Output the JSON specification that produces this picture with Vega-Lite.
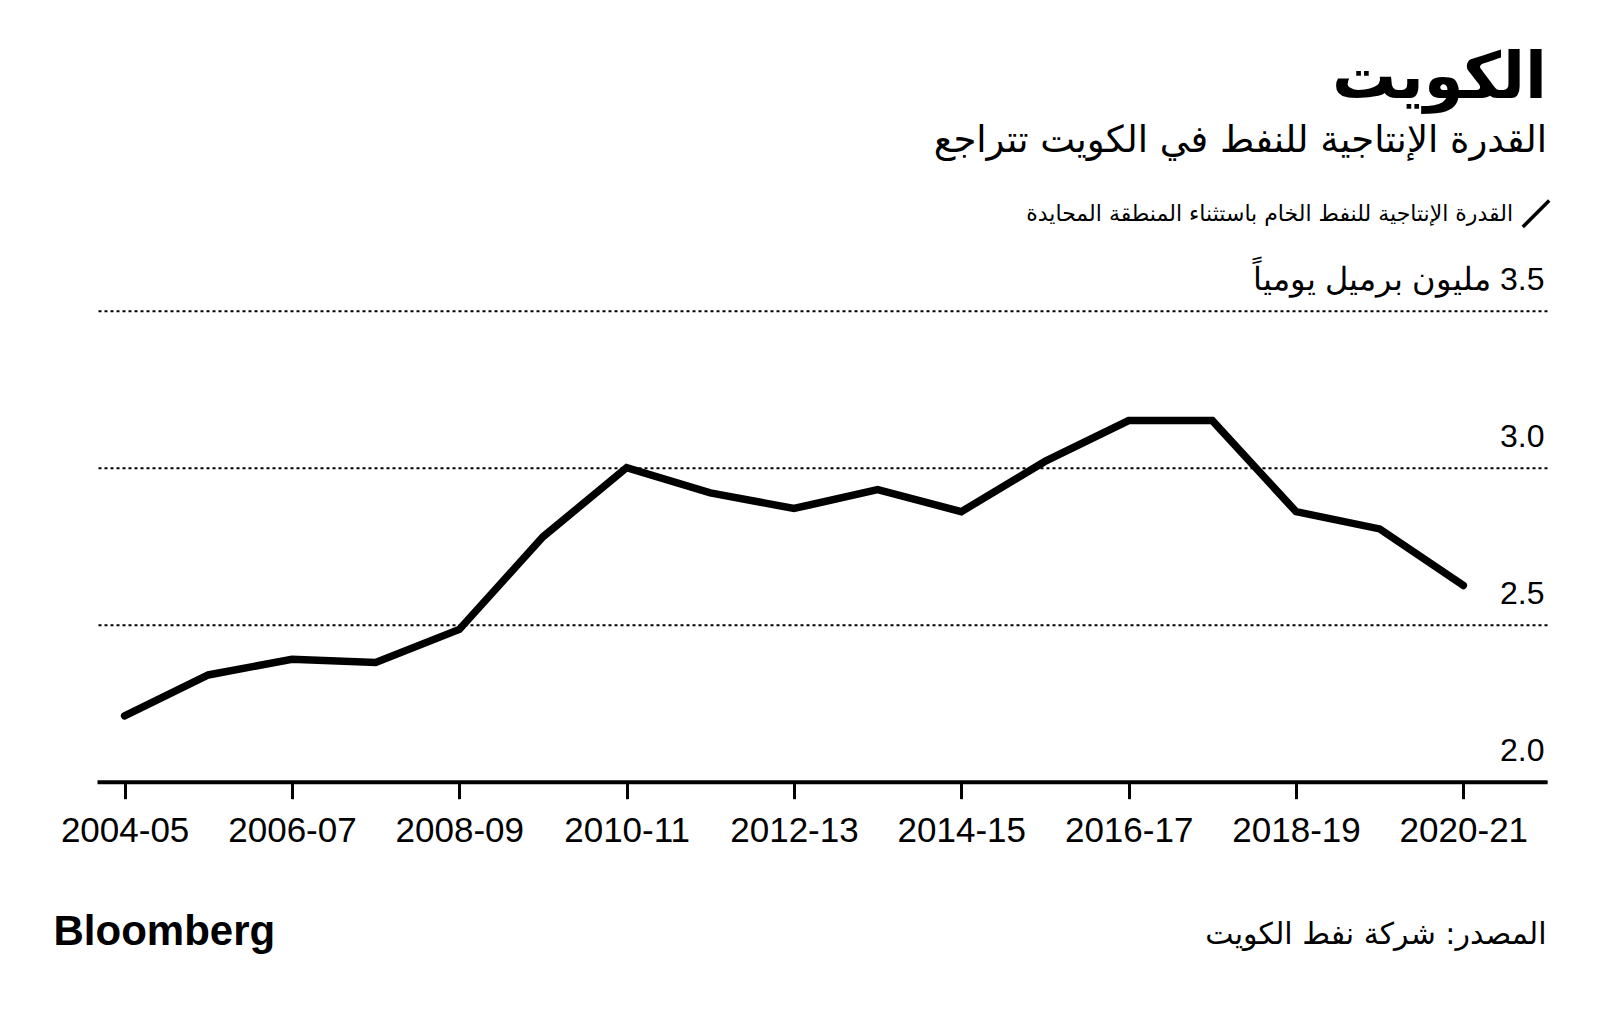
{
  "$schema": "https://vega.github.io/schema/vega-lite/v6.json",
  "width": 1450,
  "height": 471,
  "autosize": {"type": "none"},
  "padding": {"left": 97, "top": 310.7, "right": 53, "bottom": 228.3},
  "background": "white",
  "title": {
    "text": "الكويت",
    "subtitle": "القدرة الإنتاجية للنفط في الكويت تتراجع",
    "anchor": "end",
    "frame": "group",
    "orient": "top",
    "font": "DejaVu Sans",
    "fontSize": 64,
    "fontWeight": "bold",
    "color": "black",
    "subtitleFont": "DejaVu Sans",
    "subtitleFontSize": 37,
    "subtitleColor": "black",
    "subtitlePadding": 12,
    "offset": 40
  },
  "data": {
    "values": [
      {"fy": "2004-05", "start": 2004, "value": 2.21, "series": "القدرة الإنتاجية للنفط الخام باستثناء المنطقة المحايدة"},
      {"fy": "2005-06", "start": 2005, "value": 2.34, "series": "القدرة الإنتاجية للنفط الخام باستثناء المنطقة المحايدة"},
      {"fy": "2006-07", "start": 2006, "value": 2.39, "series": "القدرة الإنتاجية للنفط الخام باستثناء المنطقة المحايدة"},
      {"fy": "2007-08", "start": 2007, "value": 2.38, "series": "القدرة الإنتاجية للنفط الخام باستثناء المنطقة المحايدة"},
      {"fy": "2008-09", "start": 2008, "value": 2.485, "series": "القدرة الإنتاجية للنفط الخام باستثناء المنطقة المحايدة"},
      {"fy": "2009-10", "start": 2009, "value": 2.78, "series": "القدرة الإنتاجية للنفط الخام باستثناء المنطقة المحايدة"},
      {"fy": "2010-11", "start": 2010, "value": 3.0, "series": "القدرة الإنتاجية للنفط الخام باستثناء المنطقة المحايدة"},
      {"fy": "2011-12", "start": 2011, "value": 2.92, "series": "القدرة الإنتاجية للنفط الخام باستثناء المنطقة المحايدة"},
      {"fy": "2012-13", "start": 2012, "value": 2.87, "series": "القدرة الإنتاجية للنفط الخام باستثناء المنطقة المحايدة"},
      {"fy": "2013-14", "start": 2013, "value": 2.93, "series": "القدرة الإنتاجية للنفط الخام باستثناء المنطقة المحايدة"},
      {"fy": "2014-15", "start": 2014, "value": 2.86, "series": "القدرة الإنتاجية للنفط الخام باستثناء المنطقة المحايدة"},
      {"fy": "2015-16", "start": 2015, "value": 3.02, "series": "القدرة الإنتاجية للنفط الخام باستثناء المنطقة المحايدة"},
      {"fy": "2016-17", "start": 2016, "value": 3.15, "series": "القدرة الإنتاجية للنفط الخام باستثناء المنطقة المحايدة"},
      {"fy": "2017-18", "start": 2017, "value": 3.15, "series": "القدرة الإنتاجية للنفط الخام باستثناء المنطقة المحايدة"},
      {"fy": "2018-19", "start": 2018, "value": 2.86, "series": "القدرة الإنتاجية للنفط الخام باستثناء المنطقة المحايدة"},
      {"fy": "2019-20", "start": 2019, "value": 2.805, "series": "القدرة الإنتاجية للنفط الخام باستثناء المنطقة المحايدة"},
      {"fy": "2020-21", "start": 2020, "value": 2.625, "series": "القدرة الإنتاجية للنفط الخام باستثناء المنطقة المحايدة"}
    ]
  },
  "mark": {"type": "line", "strokeWidth": 7.5, "strokeCap": "round", "strokeJoin": "miter"},
  "encoding": {
    "x": {
      "field": "start",
      "type": "quantitative",
      "scale": {"domain": [2003.67, 2021], "nice": false, "zero": false},
      "axis": {
        "values": [2004, 2006, 2008, 2010, 2012, 2014, 2016, 2018, 2020],
        "labelExpr": "datum.value + '-' + (((datum.value + 1) % 100) < 10 ? '0' : '') + ((datum.value + 1) % 100)",
        "grid": false,
        "domain": true,
        "domainColor": "black",
        "domainWidth": 4,
        "ticks": true,
        "tickSize": 17,
        "tickWidth": 3,
        "tickColor": "black",
        "labelFont": "Liberation Sans",
        "labelFontSize": 35,
        "labelColor": "black",
        "labelPadding": 15,
        "labelFlush": false,
        "labelOverlap": false,
        "zindex": 2,
        "title": "Bloomberg",
        "titleFont": "Liberation Sans",
        "titleFontSize": 42,
        "titleFontWeight": "bold",
        "titleColor": "black",
        "titleAnchor": "start",
        "titleAlign": "left",
        "titleBaseline": "alphabetic",
        "titleX": -44,
        "titleY": 163
      }
    },
    "y": {
      "field": "value",
      "type": "quantitative",
      "scale": {"domain": [2, 3.5], "nice": false, "zero": false},
      "axis": {
        "orient": "right",
        "values": [2, 2.5, 3, 3.5],
        "labelExpr": "datum.value == 3.5 ? 'مليون برميل يومياً\u200e 3.5' : format(datum.value, '.1f')",
        "domain": false,
        "ticks": false,
        "tickSize": 0,
        "grid": true,
        "gridColor": "black",
        "gridDash": [3, 3],
        "gridWidth": 2,
        "gridOpacity": 1,
        "labelFont": "Liberation Sans",
        "labelFontSize": 32,
        "labelColor": "black",
        "labelAlign": "right",
        "labelBaseline": "alphabetic",
        "labelPadding": -3,
        "labelOffset": -21,
        "labelFlush": false,
        "labelOverlap": false,
        "labelBound": false,
        "labelLimit": 700,
        "title": "المصدر: شركة نفط الكويت",
        "titleFont": "DejaVu Sans",
        "titleFontSize": 30,
        "titleFontWeight": "normal",
        "titleColor": "black",
        "titleAngle": 0,
        "titleAlign": "right",
        "titleBaseline": "alphabetic",
        "titleX": -1,
        "titleY": 633
      }
    },
    "stroke": {
      "field": "series",
      "type": "nominal",
      "scale": {"range": ["black"]},
      "legend": {
        "title": null,
        "orient": "none",
        "legendX": 1424,
        "legendY": -112,
        "padding": 0,
        "symbolType": "M-1,1L1,-1",
        "symbolSize": 700,
        "symbolStrokeWidth": 3.5,
        "symbolStrokeColor": "black",
        "labelFont": "DejaVu Sans",
        "labelFontSize": 22,
        "labelColor": "black",
        "labelAlign": "right",
        "labelOffset": -38,
        "labelLimit": 800
      }
    }
  },
  "config": {
    "view": {"stroke": null}
  }
}
